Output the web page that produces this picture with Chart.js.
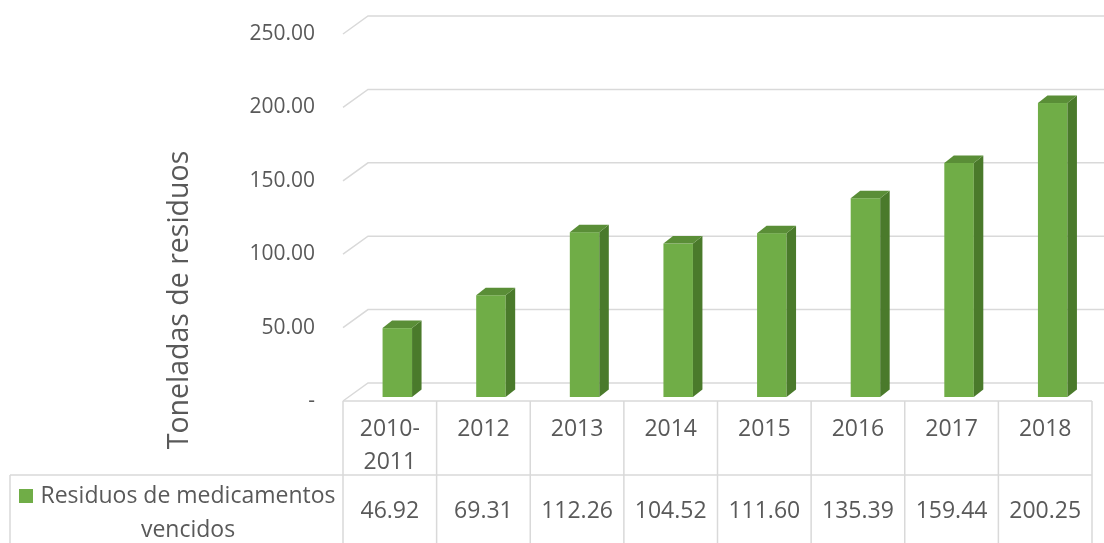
<!DOCTYPE html>
<html>
<head>
<meta charset="utf-8">
<script src="https://cdn.jsdelivr.net/npm/chart.js@4.4.1/dist/chart.umd.min.js"></script>
<style>
    html, body { margin: 0; padding: 0; background: #fff; }
    #wrap { width: 1104px; height: 543px; position: relative; }
</style>
</head>
<body>
<div id="wrap"><canvas id="chart"></canvas></div>
<script>
// 데이터
const categories = [['2010-', '2011'], '2012', '2013', '2014', '2015', '2016', '2017', '2018'];
const residuos = [46.92, 69.31, 112.26, 104.52, 111.60, 135.39, 159.44, 200.25];
const yTicks = [0, 50, 100, 150, 200, 250];
const seriesName = ['Residuos de medicamentos', 'vencidos'];
const axisTitle = 'Toneladas de residuos';

// 스타일
const FONT = '"Open Sans", "DejaVu Sans", sans-serif';
const TEXT = '#595959';
const LINE = '#d9d9d9';
const GREEN = '#70ad47';
const GREEN_SIDE = '#4a7a2b';
const GREEN_TOP = '#5a8e37';

// 3D 느낌용 오프셋
const WALL_DX = 25, WALL_DY = 18;   // 뒷벽 격자선
const BAR_OX = 7.5, BAR_OY = -4;    // 막대 앞면 위치
const BAR_DX = 9.5, BAR_DY = 7.5;   // 막대 깊이

const pseudo3d = {
    id: 'pseudo3d',
    beforeDatasetsDraw(chart) {
        const { ctx, chartArea: a, scales: { y } } = chart;
        ctx.save();
        ctx.strokeStyle = LINE;
        ctx.lineWidth = 1.5;
        yTicks.forEach(v => {
            const py = y.getPixelForValue(v);
            ctx.beginPath();
            ctx.moveTo(a.left, py);
            ctx.lineTo(a.left + WALL_DX, py - WALL_DY);
            ctx.lineTo(chart.width, py - WALL_DY);
            ctx.stroke();
        });
        ctx.restore();
    },
    afterDatasetsDraw(chart) {
        const { ctx } = chart;
        const meta = chart.getDatasetMeta(0);
        ctx.save();
        meta.data.forEach(bar => {
            const p = bar.getProps(['x', 'y', 'base', 'width'], true);
            const l = p.x - p.width / 2 + BAR_OX;
            const r = l + p.width;
            const t = p.y + BAR_OY;
            const b = p.base + BAR_OY;
            // 앞면
            ctx.fillStyle = GREEN;
            ctx.fillRect(l, t, p.width, b - t);
            // 옆면
            ctx.fillStyle = GREEN_SIDE;
            ctx.beginPath();
            ctx.moveTo(r, t);
            ctx.lineTo(r + BAR_DX, t - BAR_DY);
            ctx.lineTo(r + BAR_DX, b - BAR_DY);
            ctx.lineTo(r, b);
            ctx.closePath();
            ctx.fill();
            // 윗면
            ctx.fillStyle = GREEN_TOP;
            ctx.beginPath();
            ctx.moveTo(l, t);
            ctx.lineTo(l + BAR_DX, t - BAR_DY);
            ctx.lineTo(r + BAR_DX, t - BAR_DY);
            ctx.lineTo(r, t);
            ctx.closePath();
            ctx.fill();
        });
        ctx.restore();
    },
    afterDraw(chart) {
        const { ctx, chartArea: a, scales: { x } } = chart;
        const n = categories.length;
        const colW = (a.right - a.left) / n;
        const rowY = 475;
        const legendLeft = 10;
        ctx.save();

        // 표 선
        ctx.strokeStyle = LINE;
        ctx.lineWidth = 1.5;
        ctx.beginPath();
        ctx.moveTo(a.left, a.bottom);
        ctx.lineTo(a.right, a.bottom);
        ctx.moveTo(legendLeft, rowY);
        ctx.lineTo(a.right, rowY);
        ctx.moveTo(legendLeft, rowY);
        ctx.lineTo(legendLeft, chart.height);
        for (let i = 0; i <= n; i++) {
            const px = a.left + i * colW;
            ctx.moveTo(px, a.bottom);
            ctx.lineTo(px, chart.height);
        }
        ctx.stroke();

        // 범주 / 값 텍스트
        ctx.fillStyle = TEXT;
        ctx.font = '23px ' + FONT;
        ctx.textAlign = 'center';
        ctx.textBaseline = 'middle';
        categories.forEach((c, i) => {
            const cx = x.getPixelForValue(i);
            const lines = Array.isArray(c) ? c : [c];
            lines.forEach((s, j) => ctx.fillText(s, cx, 429 + j * 33));
            ctx.fillText(residuos[i].toFixed(2), cx, 511);
        });

        // 범례 셀
        ctx.fillStyle = GREEN;
        ctx.fillRect(19, 489, 14, 14);
        ctx.fillStyle = TEXT;
        ctx.fillText(seriesName[0], 188, 496);
        ctx.fillText(seriesName[1], 188, 530);

        // 축 제목
        ctx.translate(180, 300);
        ctx.rotate(-Math.PI / 2);
        ctx.font = '28.5px ' + FONT;
        ctx.fillText(axisTitle, 0, 0);
        ctx.restore();
    }
};

new Chart(document.getElementById('chart'), {
    type: 'bar',
    data: {
        labels: categories,
        datasets: [{
            label: seriesName.join(' '),
            data: residuos,
            backgroundColor: 'rgba(0,0,0,0)',
            borderWidth: 0,
            categoryPercentage: 1,
            barPercentage: 0.315
        }]
    },
    options: {
        responsive: true,
        maintainAspectRatio: false,
        devicePixelRatio: 1,
        animation: false,
        layout: { padding: { left: 0, right: 12, top: 34, bottom: 142 } },
        plugins: { legend: { display: false }, tooltip: { enabled: false } },
        scales: {
            x: { display: false },
            y: {
                min: 0,
                max: 250,
                afterFit: s => {
                    s.width = 343;
                    // 눈금 padding이 위/아래 여백에 더해지지 않도록
                    s.paddingTop = 0;
                    s.paddingBottom = 0;
                },
                afterBuildTicks: s => { s.ticks = yTicks.map(v => ({ value: v })); },
                grid: { display: false, drawTicks: false },
                border: { display: false },
                ticks: {
                    padding: 28,
                    color: TEXT,
                    font: { family: FONT, size: 21 },
                    callback: v => v === 0 ? '-' : v.toFixed(2)
                }
            }
        }
    },
    plugins: [pseudo3d]
});
</script>
</body>
</html>
